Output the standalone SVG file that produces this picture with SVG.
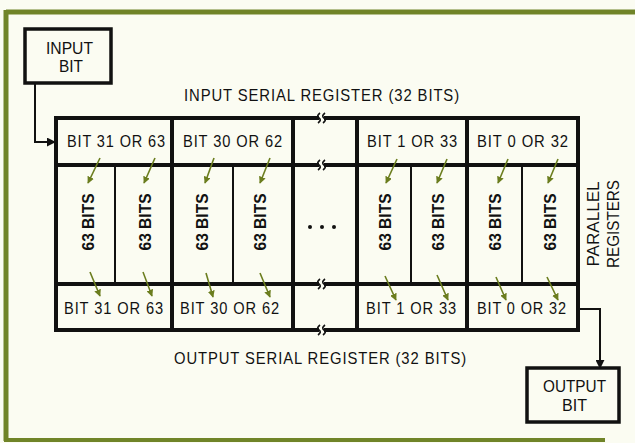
<svg xmlns="http://www.w3.org/2000/svg" width="635" height="443" viewBox="0 0 635 443">
<defs>
<style>
.t{font-family:"Liberation Sans",Arial,sans-serif;font-size:16.5px;fill:#111;}
.b{font-family:"Liberation Sans",Arial,sans-serif;font-size:16px;font-weight:bold;fill:#111;}
.grid{stroke:#111;stroke-width:4;fill:none;stroke-linecap:square;}
.sub{stroke:#111;stroke-width:2;fill:none;}
.brk{stroke:#111;stroke-width:1.6;fill:none;}
.ga{stroke:#6b7d1e;stroke-width:1.6;fill:none;marker-end:url(#gh);}
.conn{stroke:#111;stroke-width:2;fill:none;}
.box{stroke:#111;stroke-width:3.5;fill:#fbfcf2;}
.frame{stroke:#708428;fill:none;}
</style>
<marker id="gh" viewBox="0 0 10 10" refX="9" refY="5" markerWidth="7" markerHeight="7" markerUnits="userSpaceOnUse" orient="auto">
<path d="M0,0 L10,5 L0,10 z" fill="#6b7d1e"/>
</marker>
<marker id="bh" viewBox="0 0 10 10" refX="9" refY="5" markerWidth="9" markerHeight="9" markerUnits="userSpaceOnUse" orient="auto">
<path d="M0,0 L10,5 L0,10 z" fill="#111"/>
</marker>
</defs>
<rect width="635" height="443" fill="#fbfcf2"/>
<g id="frame">
<line class="frame" x1="6" y1="12" x2="635" y2="12" stroke-width="5"/>
<line class="frame" x1="6" y1="10" x2="6" y2="441" stroke-width="5"/>
<line class="frame" x1="4" y1="440" x2="605" y2="440" stroke-width="4"/>
</g>

<g id="register-grid">
<line class="grid" x1="56" y1="118" x2="317" y2="118"/><line class="grid" x1="326" y1="118" x2="578" y2="118"/>
<line class="grid" x1="56" y1="165" x2="317" y2="165"/><line class="grid" x1="326" y1="165" x2="578" y2="165"/>
<line class="grid" x1="56" y1="284" x2="317" y2="284"/><line class="grid" x1="326" y1="284" x2="578" y2="284"/>
<line class="grid" x1="56" y1="330" x2="317" y2="330"/><line class="grid" x1="326" y1="330" x2="578" y2="330"/>
<line class="grid" x1="56" y1="118" x2="56" y2="330"/>
<line class="grid" x1="172" y1="118" x2="172" y2="330"/>
<line class="grid" x1="293" y1="118" x2="293" y2="330"/>
<line class="grid" x1="357" y1="118" x2="357" y2="330"/>
<line class="grid" x1="467" y1="118" x2="467" y2="330"/>
<line class="grid" x1="578" y1="118" x2="578" y2="330"/>
<line class="sub" x1="115" y1="165" x2="115" y2="284"/>
<line class="sub" x1="233" y1="165" x2="233" y2="284"/>
<line class="sub" x1="411" y1="165" x2="411" y2="284"/>
<line class="sub" x1="522" y1="165" x2="522" y2="284"/>
<g id="breaks">
<path class="brk" d="M320,113 q-4,3 -1,5 q3,2 -1,5 M325,113 q-4,3 -1,5 q3,2 -1,5"/>
<path class="brk" d="M320,160 q-4,3 -1,5 q3,2 -1,5 M325,160 q-4,3 -1,5 q3,2 -1,5"/>
<path class="brk" d="M320,279 q-4,3 -1,5 q3,2 -1,5 M325,279 q-4,3 -1,5 q3,2 -1,5"/>
<path class="brk" d="M320,325 q-4,3 -1,5 q3,2 -1,5 M325,325 q-4,3 -1,5 q3,2 -1,5"/>
</g>
<g id="ellipsis" fill="#111">
<circle cx="310" cy="227" r="2"/><circle cx="322" cy="227" r="2"/><circle cx="334" cy="227" r="2"/>
</g>
</g>

<g id="input-bit">
<rect class="box" x="25" y="29" width="86" height="54"/>
<text class="t" x="46" y="54" textLength="47" lengthAdjust="spacingAndGlyphs">INPUT</text>
<text class="t" x="59" y="72" textLength="24" lengthAdjust="spacingAndGlyphs">BIT</text>
</g>

<g id="output-bit">
<rect class="box" x="527" y="368" width="92" height="54"/>
<text class="t" x="543" y="392" textLength="63" lengthAdjust="spacingAndGlyphs">OUTPUT</text>
<text class="t" x="562" y="411" textLength="25" lengthAdjust="spacingAndGlyphs">BIT</text>
</g>

<g id="labels">
<text class="t" x="184" y="101" textLength="276" lengthAdjust="spacingAndGlyphs" letter-spacing="1">INPUT SERIAL REGISTER (32 BITS)</text>
<text class="t" x="174" y="364" textLength="293" lengthAdjust="spacingAndGlyphs" letter-spacing="1">OUTPUT SERIAL REGISTER (32 BITS)</text>
<text class="t" transform="translate(599,224) rotate(-90)" text-anchor="middle" textLength="85" lengthAdjust="spacingAndGlyphs">PARALLEL</text>
<text class="t" transform="translate(619,224) rotate(-90)" text-anchor="middle" textLength="88" lengthAdjust="spacingAndGlyphs">REGISTERS</text>
</g>

<g id="input-register">
<text class="t" x="67" y="147" textLength="99" lengthAdjust="spacingAndGlyphs" letter-spacing="1">BIT 31 OR 63</text>
<text class="t" x="183" y="147" textLength="100" lengthAdjust="spacingAndGlyphs" letter-spacing="1">BIT 30 OR 62</text>
<text class="t" x="367" y="147" textLength="91" lengthAdjust="spacingAndGlyphs" letter-spacing="1">BIT 1 OR 33</text>
<text class="t" x="477" y="147" textLength="92" lengthAdjust="spacingAndGlyphs" letter-spacing="1">BIT 0 OR 32</text>
</g>

<g id="output-register">
<text class="t" x="64" y="314" textLength="100" lengthAdjust="spacingAndGlyphs" letter-spacing="1">BIT 31 OR 63</text>
<text class="t" x="180" y="314" textLength="100" lengthAdjust="spacingAndGlyphs" letter-spacing="1">BIT 30 OR 62</text>
<text class="t" x="366" y="314" textLength="91" lengthAdjust="spacingAndGlyphs" letter-spacing="1">BIT 1 OR 33</text>
<text class="t" x="477" y="314" textLength="90" lengthAdjust="spacingAndGlyphs" letter-spacing="1">BIT 0 OR 32</text>
</g>

<g id="parallel-registers">
<text class="b" transform="translate(94,222) rotate(-90)" text-anchor="middle" textLength="57" lengthAdjust="spacingAndGlyphs">63 BITS</text>
<text class="b" transform="translate(151,222) rotate(-90)" text-anchor="middle" textLength="57" lengthAdjust="spacingAndGlyphs">63 BITS</text>
<text class="b" transform="translate(208,222) rotate(-90)" text-anchor="middle" textLength="57" lengthAdjust="spacingAndGlyphs">63 BITS</text>
<text class="b" transform="translate(266,222) rotate(-90)" text-anchor="middle" textLength="57" lengthAdjust="spacingAndGlyphs">63 BITS</text>
<text class="b" transform="translate(391,222) rotate(-90)" text-anchor="middle" textLength="57" lengthAdjust="spacingAndGlyphs">63 BITS</text>
<text class="b" transform="translate(444,222) rotate(-90)" text-anchor="middle" textLength="57" lengthAdjust="spacingAndGlyphs">63 BITS</text>
<text class="b" transform="translate(501,222) rotate(-90)" text-anchor="middle" textLength="57" lengthAdjust="spacingAndGlyphs">63 BITS</text>
<text class="b" transform="translate(556,222) rotate(-90)" text-anchor="middle" textLength="57" lengthAdjust="spacingAndGlyphs">63 BITS</text>
</g>

<g id="connectors">
<polyline class="conn" points="35,83 35,142 55,142" marker-end="url(#bh)"/>
<polyline class="conn" points="579,309 600,309 600,368" marker-end="url(#bh)"/>
<g id="load-arrows">
<line class="ga" x1="100" y1="158" x2="88" y2="183"/>
<line class="ga" x1="155" y1="158" x2="144" y2="183"/>
<line class="ga" x1="214" y1="158" x2="205" y2="183"/>
<line class="ga" x1="270" y1="158" x2="260" y2="183"/>
<line class="ga" x1="397" y1="159" x2="386" y2="183"/>
<line class="ga" x1="447" y1="159" x2="437" y2="183"/>
<line class="ga" x1="508" y1="159" x2="498" y2="183"/>
<line class="ga" x1="558" y1="159" x2="548" y2="183"/>
</g>
<g id="unload-arrows">
<line class="ga" x1="90" y1="272" x2="100" y2="296"/>
<line class="ga" x1="143" y1="272" x2="152" y2="296"/>
<line class="ga" x1="206" y1="273" x2="213" y2="297"/>
<line class="ga" x1="260" y1="273" x2="270" y2="297"/>
<line class="ga" x1="385" y1="276" x2="396" y2="300"/>
<line class="ga" x1="437" y1="275" x2="448" y2="300"/>
<line class="ga" x1="496" y1="277" x2="506" y2="300"/>
<line class="ga" x1="547" y1="277" x2="558" y2="300"/>
</g>
</g>
</svg>
